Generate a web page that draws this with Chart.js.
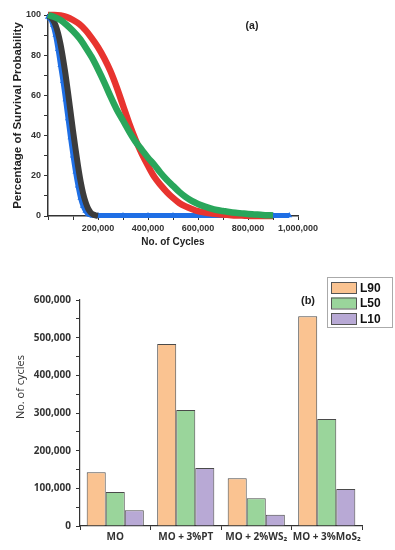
<!DOCTYPE html>
<html>
<head>
<meta charset="utf-8">
<script src="https://cdn.jsdelivr.net/npm/chart.js@4.4.1/dist/chart.umd.min.js"></script>
<style>
body{margin:0;background:#fff;}
#wrap{position:relative;width:395px;height:550px;}
#survChart{position:absolute;left:0;top:0;}
#lifeChart{position:absolute;left:0;top:250px;}
</style>
</head>
<body>
<div id="wrap">
<canvas id="survChart" width="395" height="250"></canvas>
<canvas id="lifeChart" width="395" height="300"></canvas>
</div>
<script>
// (a) survival probability curves
const fastCycles = [0,10000,20000,30000,40000,50000,60000,70000,80000,90000,100000,110000,120000,130000,140000,150000,160000,170000,180000,190000,200000];
const moSurvival = [99.5,99,97.5,95,91,85.5,78.5,70.5,61.5,52,42.5,33.5,25,17.5,11.5,7,3.8,1.8,0.8,0.3,0.1];
const ws2Cycles = [0,10000,20000,30000,40000,50000,60000,70000,80000,90000,100000,110000,120000,130000,140000,150000,160000,170000,180000,190000,200000,300000,400000,500000,600000,700000,800000,900000,965000];
const ws2Survival = [99,98,95,90,83,75,67,58,48.5,39,30,22,15,9,5,2.5,1,0.5,0.3,0.2,0.2,0.2,0.2,0.2,0.2,0.2,0.2,0.2,0.2];
const slowCycles = [0,25000,50000,75000,100000,125000,150000,175000,200000,225000,250000,275000,300000,325000,350000,375000,400000,425000,450000,475000,500000,525000,550000,575000,600000,625000,650000,675000,700000,725000,750000,775000,800000,825000,850000,875000,900000];
const ptSurvival = [100,100,99.8,99,97.5,95.5,92.5,88.5,84,78.5,72,64,55,46,38,31,25,19.5,15.5,12,9,6.5,4.8,3.5,2.4,1.8,1.3,1,0.7,0.5,0.3,0.2,0.1,0,0,0,0];
const mos2Survival = [100,99,97.5,95,92,88.5,84,79,73,66.5,59.5,53,47.5,42,37,33,29,25.5,21.5,18,15,12,9.5,7.5,6,4.8,3.8,3,2.5,2,1.6,1.3,1,0.8,0.6,0.4,0.3];

// (b) life values
const oils = ['MO', 'MO + 3%PT', 'MO + 2%WS₂', 'MO + 3%MoS₂'];
const l90 = [143000, 483000, 127000, 557000];
const l50 = [90000, 308000, 74000, 284000];
const l10 = [42000, 154000, 30000, 98000];

const pts = (xs, ys) => xs.map((x, i) => ({x: x, y: ys[i]}));

const arial = '"Liberation Sans", Arial, sans-serif';
const sans = '"Open Sans", "Noto Sans", sans-serif';

const panelText = {
  id: 'panelText',
  afterDraw(chart, args, opts) {
    const ctx = chart.ctx;
    ctx.save();
    ctx.fillStyle = '#222';
    ctx.font = opts.font;
    ctx.textAlign = 'center';
    ctx.textBaseline = 'middle';
    ctx.fillText(opts.text, opts.x, opts.y);
    if (opts.yTitle) {
      ctx.font = opts.yTitleFont;
      ctx.fillStyle = '#333';
      ctx.translate(opts.yTitleX, opts.yTitleY);
      ctx.rotate(-Math.PI / 2);
      ctx.fillText(opts.yTitle, 0, 0);
    }
    ctx.restore();
  }
};

const boxLegend = {
  id: 'boxLegend',
  afterDraw(chart) {
    const ctx = chart.ctx;
    ctx.save();
    ctx.fillStyle = '#fff';
    ctx.fillRect(327.5, 27.5, 65, 50);
    ctx.strokeStyle = '#aaa';
    ctx.lineWidth = 1;
    ctx.strokeRect(327.5, 27.5, 65, 50);
    chart.data.datasets.forEach((ds, i) => {
      const y = 32 + i * 15.5;
      ctx.fillStyle = ds.backgroundColor;
      ctx.fillRect(331, y, 25, 11);
      ctx.strokeStyle = '#555';
      ctx.strokeRect(331.5, y + 0.5, 25, 11);
      ctx.fillStyle = '#111';
      ctx.font = 'bold 12px ' + arial;
      ctx.textAlign = 'left';
      ctx.textBaseline = 'middle';
      ctx.fillText(ds.label, 360, y + 6.5);
    });
    ctx.restore();
  }
};

new Chart(document.getElementById('survChart'), {
  type: 'line',
  data: {
    datasets: [
      {label: 'MO + 3%MoS2', data: pts(slowCycles, mos2Survival), borderColor: '#29a65b', borderWidth: 6.5, pointRadius: 0, cubicInterpolationMode: 'monotone', clip: false},
      {label: 'MO + 3%PT', data: pts(slowCycles, ptSurvival), borderColor: '#e8342f', borderWidth: 6.5, pointRadius: 0, cubicInterpolationMode: 'monotone', clip: false},
      {label: 'MO', data: pts(fastCycles, moSurvival), borderColor: '#3c3c3c', backgroundColor: '#3c3c3c', borderWidth: 6, pointRadius: 0, cubicInterpolationMode: 'monotone', clip: false},
      {label: 'MO + 2%WS2', data: pts(ws2Cycles, ws2Survival), borderColor: '#1f6fe5', backgroundColor: '#1f6fe5', borderWidth: 5, pointStyle: 'triangle', pointRadius: 3.5, pointBorderWidth: 0, cubicInterpolationMode: 'monotone', clip: false}
    ]
  },
  options: {
    responsive: false,
    animation: false,
    layout: {padding: {top: 15, right: 97, left: 0, bottom: 0}},
    plugins: {
      legend: {display: false},
      tooltip: {enabled: false},
      panelText: {text: '(a)', x: 252, y: 26, font: 'bold 10.5px ' + arial}
    },
    scales: {
      x: {
        type: 'linear', min: 0, max: 1000000,
        afterFit: s => { s.height = 34; },
        grid: {drawOnChartArea: false, tickLength: 4, color: '#333'},
        border: {color: '#333', width: 1.5},
        ticks: {stepSize: 100000, autoSkip: false, maxRotation: 0, padding: 3, color: '#333',
          font: {family: arial, size: 9, weight: 'bold'},
          callback: v => (v !== 0 && v % 200000 === 0) ? v.toLocaleString('en-US') : ''},
        title: {display: true, text: 'No. of Cycles', color: '#222', padding: {top: 0, bottom: 2},
          font: {family: arial, size: 10, weight: 'bold'}}
      },
      y: {
        min: 0, max: 100,
        afterFit: s => { s.width = 48; },
        grid: {drawOnChartArea: false, tickLength: 4, color: '#333'},
        border: {color: '#333', width: 1.5},
        ticks: {stepSize: 10, autoSkip: false, padding: 3, color: '#333',
          font: {family: arial, size: 9, weight: 'bold'},
          callback: v => v % 20 === 0 ? v : ''},
        title: {display: true, text: 'Percentage of Survival Probability', color: '#222', padding: {top: 11, bottom: 0},
          font: {family: arial, size: 11.5, weight: 'bold'}}
      }
    }
  },
  plugins: [panelText]
});

new Chart(document.getElementById('lifeChart'), {
  type: 'bar',
  data: {
    labels: oils,
    datasets: [
      {label: 'L90', data: l90, backgroundColor: '#fac391'},
      {label: 'L50', data: l50, backgroundColor: '#9ad59b'},
      {label: 'L10', data: l10, backgroundColor: '#b8a9d5'}
    ]
  },
  options: {
    responsive: false,
    animation: false,
    datasets: {bar: {borderColor: '#4a4a4a', borderWidth: 1, categoryPercentage: 0.81, barPercentage: 1}},
    layout: {padding: {top: 50, right: 33, left: 0, bottom: 0}},
    plugins: {
      legend: {display: false},
      tooltip: {enabled: false},
      panelText: {text: '(b)', x: 308, y: 51, font: 'bold 11px ' + arial,
        yTitle: 'No. of cycles', yTitleX: 21, yTitleY: 137, yTitleFont: '11px ' + sans}
    },
    scales: {
      x: {
        afterFit: s => { s.height = 24; },
        grid: {drawOnChartArea: false, tickLength: 4, color: '#333', offset: true},
        border: {color: '#333', width: 1.2},
        ticks: {padding: 1, color: '#333', maxRotation: 0, autoSkip: false,
          font: {family: sans, size: 10, weight: 'bold'}}
      },
      y: {
        min: 0, max: 600000,
        afterFit: s => { s.width = 80; },
        grid: {drawOnChartArea: false, tickLength: 4, color: '#333'},
        border: {color: '#333', width: 1.2},
        ticks: {stepSize: 50000, autoSkip: false, padding: 5, color: '#333',
          font: {family: sans, size: 10, weight: 'bold'},
          callback: v => v % 100000 === 0 ? v.toLocaleString('en-US') : ''}
      }
    }
  },
  plugins: [panelText, boxLegend]
});
</script>
</body>
</html>
